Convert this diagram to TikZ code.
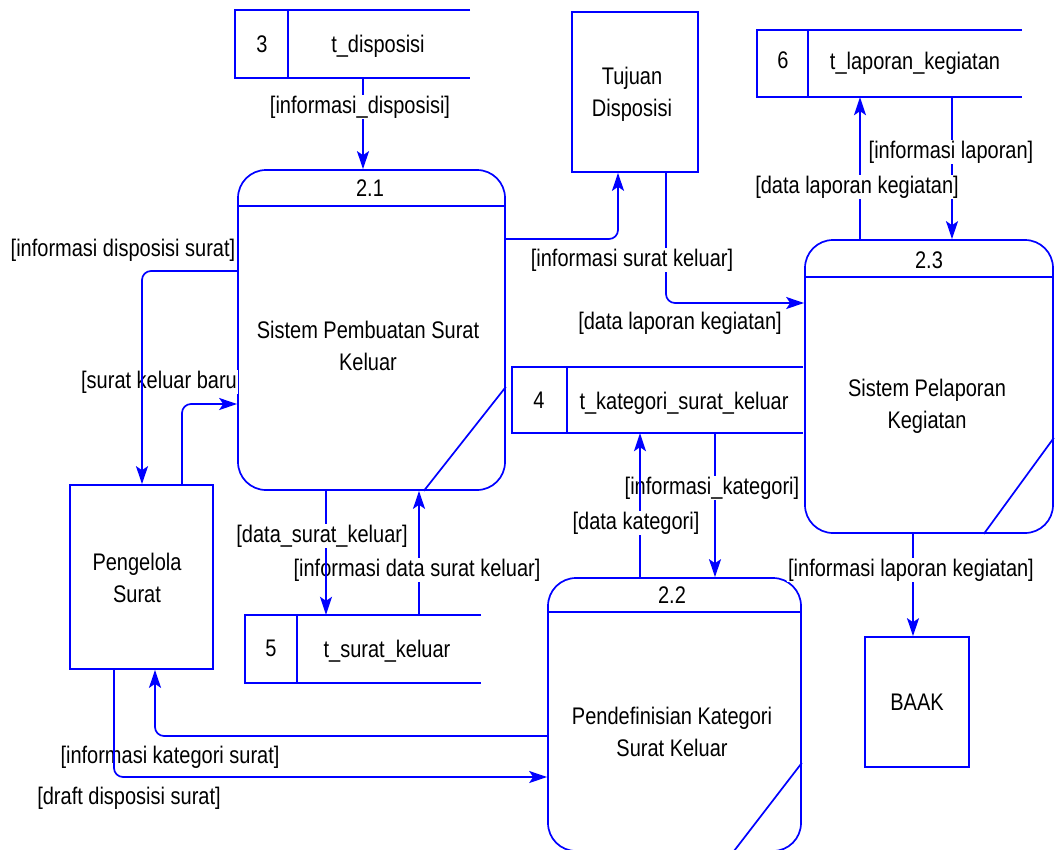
\documentclass[tikz,border=0pt]{standalone}
\usepackage{fontspec}
\setmainfont{Liberation Sans}
\usetikzlibrary{arrows.meta}
\newcommand{\ST}[1]{\scalebox{1}[1.2]{#1}}
\begin{document}
\begin{tikzpicture}[x=1pt,y=-1pt,
  every node/.style={font=\fontsize{20}{32}\selectfont, text=black},
  ln/.style={draw=blue, line width=1.7pt},
  flow/.style={ln, -{Stealth[length=18pt,width=12pt,inset=4pt]}, rounded corners=9pt},
  proc/.style={draw=blue, line width=1.7pt, rectangle, rounded corners=28pt, inner sep=0pt},
  ent/.style={draw=blue, line width=1.7pt, rectangle, inner sep=0pt},
  storebox/.style={rectangle, inner sep=0pt},
  lbl/.style={fill=white, inner sep=1pt},
  txt/.style={align=center, inner sep=0pt}]
\useasboundingbox (0,0) rectangle (1055,849);
\clip (0,0) rectangle (1055,849);

% helper coordinates
\foreach \x in {114,142,155,182,326,363,419,618,640,666,715,860,913,952}
  \coordinate (c\x) at (\x,0);
\foreach \y in {239,271,303,404,736,777}
  \coordinate (y\y) at (0,\y);

% ---------- processes ----------
\node[proc, minimum width=267pt, minimum height=320pt] (p21) at (371.5,330) {};
\draw[ln] ([yshift=-37pt]p21.north west) -- ([yshift=-37pt]p21.north east);
\draw[ln] ([yshift=104pt]p21.south east) -- ([xshift=-82pt]p21.south east);
\node (p21n) at (370,188) {\ST{2.1}};
\node[txt] (p21t) at (368,346) {\ST{Sistem Pembuatan Surat}\\\ST{Keluar}};

\node[proc, minimum width=253pt, minimum height=273pt] (p22) at (674.5,714.5) {};
\draw[ln] ([yshift=-35pt]p22.north west) -- ([yshift=-35pt]p22.north east);
\draw[ln] ([yshift=89pt]p22.south east) -- ([xshift=-68.5pt]p22.south east);
\node (p22n) at (672,595) {\ST{2.2}};
\node[txt] (p22t) at (672,732) {\ST{Pendefinisian Kategori}\\\ST{Surat Keluar}};

\node[proc, minimum width=248pt, minimum height=293pt] (p23) at (929,386.5) {};
\draw[ln] ([yshift=-38pt]p23.north west) -- ([yshift=-38pt]p23.north east);
\draw[ln] ([yshift=96pt]p23.south east) -- ([xshift=-70pt]p23.south east);
\node (p23n) at (929,260) {\ST{2.3}};
\node[txt] (p23t) at (927,406) {\ST{Sistem Pelaporan}\\\ST{Kegiatan}};

% ---------- external entities ----------
\node[ent, minimum width=126pt, minimum height=160pt] (tuj) at (635,92) {};
\node[txt] (tujt) at (632,94) {\ST{Tujuan}\\\ST{Disposisi}};
\node[ent, minimum width=143pt, minimum height=184pt] (peng) at (141.5,577) {};
\node[txt] (pengt) at (137,578) {\ST{Pengelola}\\\ST{Surat}};
\node[ent, minimum width=104pt, minimum height=130pt] (baak) at (917,702) {};
\node[txt] (baakt) at (917,702) {\ST{BAAK}};

% ---------- data stores ----------
\node[storebox, minimum width=235pt, minimum height=68pt] (s3) at (352.5,44) {};
\draw[ln] (s3.north east) -- (s3.north west) -- (s3.south west) -- (s3.south east);
\draw[ln] ([xshift=53pt]s3.north west) -- ([xshift=53pt]s3.south west);
\node (s3n) at (262,44) {\ST{3}};
\node (s3t) at (378,46) {\ST{t\_disposisi}};

\node[storebox, minimum width=265pt, minimum height=67pt] (s6) at (889.5,63.5) {};
\draw[ln] (s6.north east) -- (s6.north west) -- (s6.south west) -- (s6.south east);
\draw[ln] ([xshift=51pt]s6.north west) -- ([xshift=51pt]s6.south west);
\node (s6n) at (783,60) {\ST{6}};
\node (s6t) at (915,63) {\ST{t\_laporan\_kegiatan}};

\node[storebox, minimum width=291pt, minimum height=66pt] (s4) at (657.5,400) {};
\draw[ln] (s4.north east) -- (s4.north west) -- (s4.south west) -- (s4.south east);
\draw[ln] ([xshift=55pt]s4.north west) -- ([xshift=55pt]s4.south west);
\node (s4n) at (539,400) {\ST{4}};
\node (s4t) at (684,403) {\ST{t\_kategori\_surat\_keluar}};

\node[storebox, minimum width=236pt, minimum height=68pt] (s5) at (363,649) {};
\draw[ln] (s5.north east) -- (s5.north west) -- (s5.south west) -- (s5.south east);
\draw[ln] ([xshift=52pt]s5.north west) -- ([xshift=52pt]s5.south west);
\node (s5n) at (271,648) {\ST{5}};
\node (s5t) at (387,651) {\ST{t\_surat\_keluar}};

% ---------- data flows ----------
\draw[flow] (s3.south -| c363) -- (p21.north -| c363);
\node[lbl] (l1) at (360,107) {\ST{[informasi\_disposisi]}};

\draw[flow] (tuj.south -| c666) |- (p23.west |- y303);
\node[lbl] (l3) at (680,323) {\ST{[data laporan kegiatan]}};
\draw[flow] (p21.east |- y239) -| (tuj.south -| c618);
\node[lbl] (l2) at (632,260) {\ST{[informasi surat keluar]}};

\draw[flow] (s6.south -| c952) -- (p23.north -| c952);
\node[lbl] (l5) at (951,152) {\ST{[informasi laporan]}};
\draw[flow] (p23.north -| c860) -- (s6.south -| c860);
\node[lbl] (l4) at (857,187) {\ST{[data laporan kegiatan]}};

\draw[flow] (p23.south -| c913) -- (baak.north -| c913);
\node[lbl] (l6) at (911,570) {\ST{[informasi laporan kegiatan]}};

\draw[flow] (s4.south -| c715) -- (p22.north -| c715);
\node[lbl] (l8) at (712,488) {\ST{[informasi\_kategori]}};
\draw[flow] (p22.north -| c640) -- (s4.south -| c640);
\node[lbl] (l7) at (636,523) {\ST{[data kategori]}};

\draw[flow] (s5.north -| c419) -- (p21.south -| c419);
\node[lbl] (l10) at (417,570) {\ST{[informasi data surat keluar]}};
\draw[flow] (p21.south -| c326) -- (s5.north -| c326);
\node[lbl] (l9) at (322,536) {\ST{[data\_surat\_keluar]}};

\draw[flow] (peng.north -| c182) |- (p21.west |- y404);
\node[lbl] (l12) at (159,382) {\ST{[surat keluar baru}};
\draw[flow] (p21.west |- y271) -| (peng.north -| c142);
\node[lbl] (l11) at (123,250) {\ST{[informasi disposisi surat]}};

\draw[flow] (p22.west |- y736) -| (peng.south -| c155);
\node[lbl] (l13) at (170,757) {\ST{[informasi kategori surat]}};
\draw[flow] (peng.south -| c114) |- (p22.west |- y777);
\node[lbl] (l14) at (129,798) {\ST{[draft disposisi surat]}};
\end{tikzpicture}
\end{document}
